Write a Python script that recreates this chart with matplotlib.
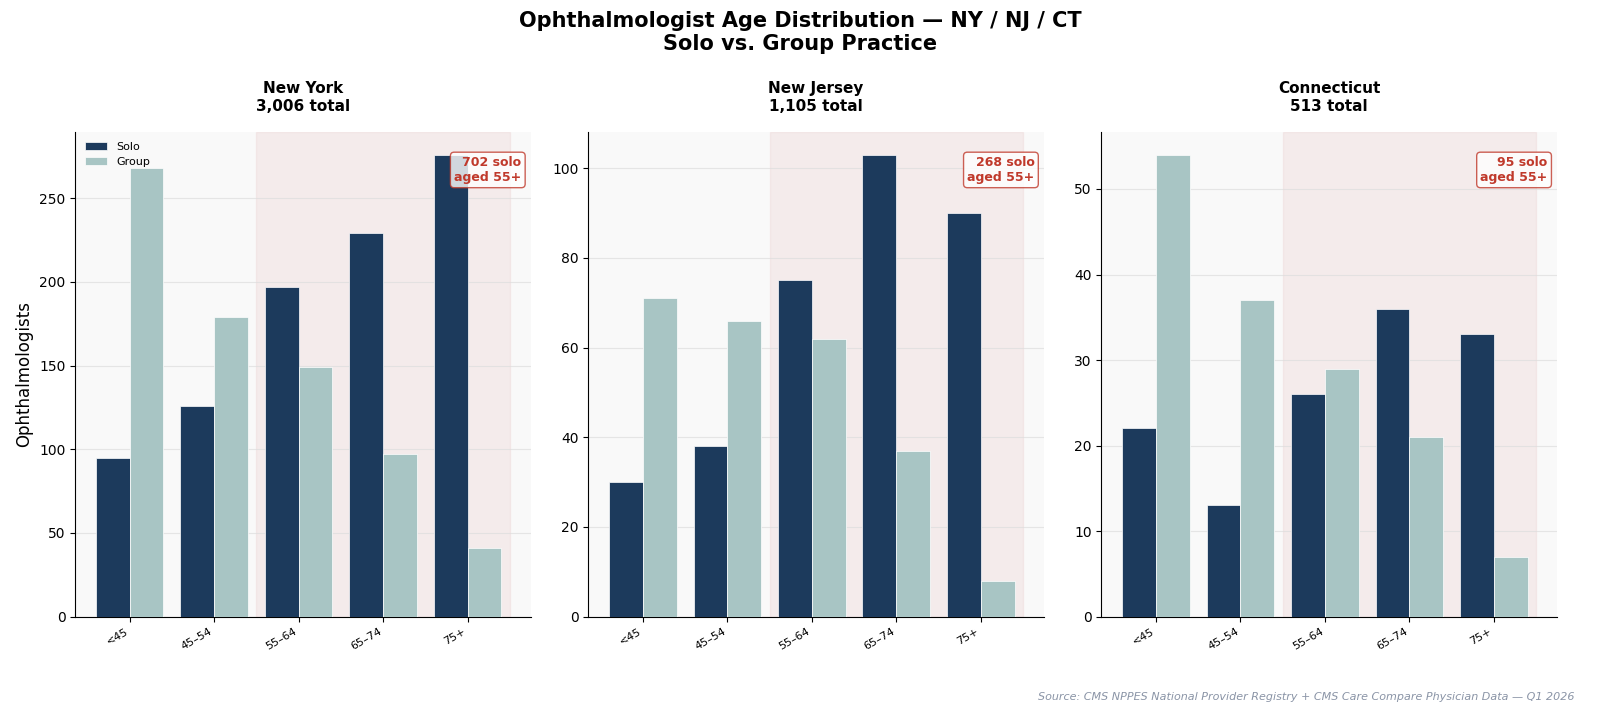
import numpy as np
import matplotlib
matplotlib.use("Agg")
import matplotlib.pyplot as plt

age_bins = ["<45", "45–54", "55–64", "65–74", "75+"]
states = ["New York", "New Jersey", "Connecticut"]
totals = [3006, 1105, 513]

solo_ny = [95, 126, 197, 229, 276]
group_ny = [268, 179, 149, 97, 41]
solo_nj = [30, 38, 75, 103, 90]
group_nj = [71, 66, 62, 37, 8]
solo_ct = [22, 13, 26, 36, 33]
group_ct = [54, 37, 29, 21, 7]

solo_all = [solo_ny, solo_nj, solo_ct]
group_all = [group_ny, group_nj, group_ct]

SOLO_COLOR = "#1c3a5c"
GROUP_COLOR = "#a8c5c4"
RED = "#c0392b"

fig, axes = plt.subplots(1, 3, figsize=(16, 7.08), dpi=100)

x = np.arange(len(age_bins))
w = 0.4

for i, ax in enumerate(axes):
    solo = solo_all[i]
    group = group_all[i]
    ax.set_facecolor("#f9f9f9")
    ax.axvspan(1.5, 4.5, color="#e8c4c4", alpha=0.25, zorder=0)
    ax.bar(x - w / 2, solo, w, color=SOLO_COLOR, label="Solo", zorder=3,
           edgecolor="white", linewidth=0.5)
    ax.bar(x + w / 2, group, w, color=GROUP_COLOR, label="Group", zorder=3,
           edgecolor="white", linewidth=0.5)

    ax.set_xticks(x)
    ax.set_xticklabels(age_bins, rotation=30, ha="right", fontsize=8)
    ax.tick_params(axis="y", labelsize=10)
    ax.grid(axis="y", color="#dddddd", linewidth=0.8, alpha=0.7, zorder=0)
    ax.set_axisbelow(True)
    ax.spines["top"].set_visible(False)
    ax.spines["right"].set_visible(False)

    ax.set_title(f"{states[i]}\n{totals[i]:,} total", fontsize=11,
                 fontweight="bold", pad=15)

    old_solo = sum(solo[2:])
    ax.text(0.98, 0.95, f"{old_solo} solo\naged 55+", transform=ax.transAxes,
            ha="right", va="top", fontsize=9, fontweight="bold", color=RED,
            zorder=5,
            bbox=dict(boxstyle="round,pad=0.3", facecolor="white", alpha=0.8,
                      edgecolor=RED))

axes[0].set_ylabel("Ophthalmologists", fontsize=12)
axes[0].legend(loc="upper left", fontsize=8, frameon=False)

fig.suptitle("Ophthalmologist Age Distribution — NY / NJ / CT\nSolo vs. Group Practice",
             fontsize=15, fontweight="bold", y=0.985)
fig.text(0.984, 0.008,
         "Source: CMS NPPES National Provider Registry + CMS Care Compare Physician Data — Q1 2026",
         ha="right", va="bottom", fontsize=8, style="italic", color="#8a94a6")

plt.subplots_adjust(left=0.047, right=0.973, top=0.814, bottom=0.129, wspace=0.127)
plt.savefig("out.png", dpi=100)
